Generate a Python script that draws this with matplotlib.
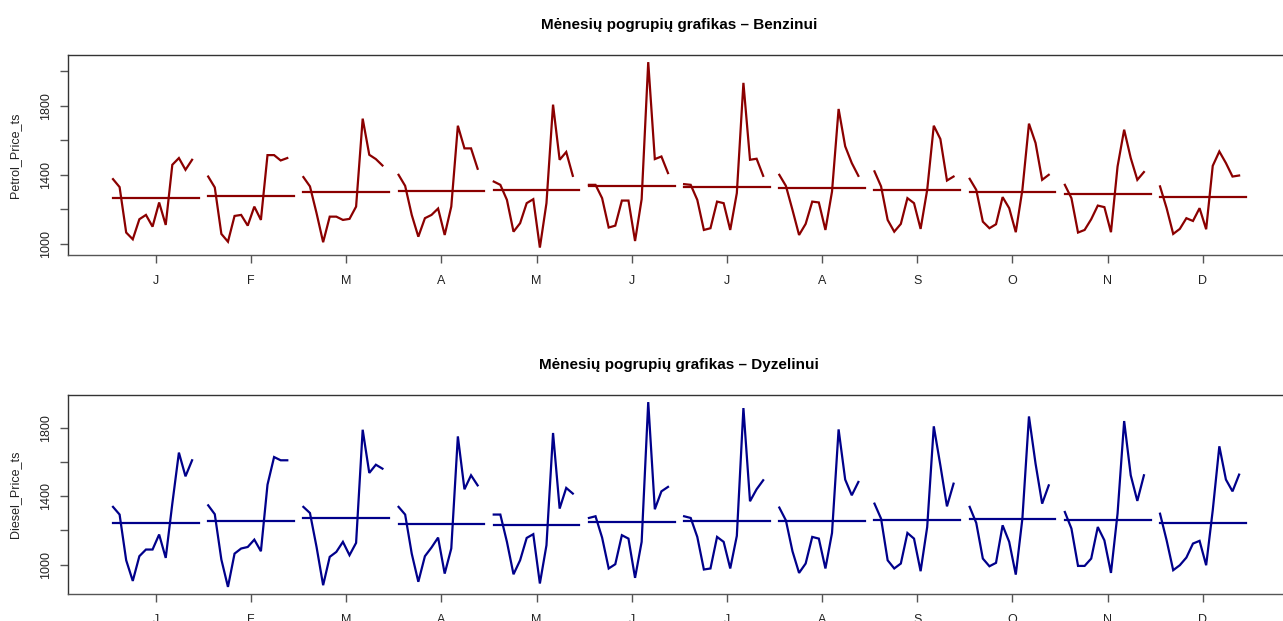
import numpy as np
import matplotlib
matplotlib.use("Agg")
import matplotlib.pyplot as plt

plt.rcParams['font.family'] = ['Liberation Sans', 'DejaVu Sans']

month_labels = ["J", "F", "M", "A", "M", "J", "J", "A", "S", "O", "N", "D"]

# Benzinas: kiekvieno mėnesio reikšmės per metus
petrol_jan = [1375, 1329, 1066, 1027, 1143, 1168, 1100, 1240, 1110, 1458, 1497, 1429, 1487]
petrol_feb = [1390, 1327, 1058, 1013, 1162, 1168, 1106, 1216, 1139, 1514, 1514, 1483, 1497]
petrol_mar = [1387, 1333, 1178, 1010, 1158, 1158, 1139, 1145, 1216, 1725, 1516, 1491, 1454]
petrol_apr = [1400, 1336, 1168, 1042, 1149, 1168, 1205, 1052, 1216, 1684, 1553, 1553, 1435]
petrol_may = [1361, 1342, 1255, 1071, 1120, 1236, 1259, 979, 1236, 1806, 1487, 1532, 1394]
petrol_jun = [1342, 1342, 1265, 1095, 1106, 1251, 1251, 1017, 1259, 2052, 1491, 1506, 1410]
petrol_jul = [1346, 1342, 1255, 1081, 1091, 1245, 1236, 1081, 1294, 1932, 1487, 1493, 1394]
petrol_aug = [1400, 1336, 1197, 1052, 1116, 1245, 1240, 1081, 1303, 1781, 1565, 1468, 1394]
petrol_sep = [1420, 1333, 1139, 1071, 1116, 1265, 1236, 1087, 1313, 1684, 1607, 1367, 1390]
petrol_oct = [1377, 1313, 1129, 1091, 1114, 1271, 1207, 1068, 1313, 1696, 1584, 1371, 1400]
petrol_nov = [1342, 1265, 1066, 1081, 1143, 1222, 1213, 1068, 1448, 1661, 1497, 1371, 1416]
petrol_dec = [1333, 1207, 1058, 1087, 1149, 1133, 1207, 1085, 1452, 1535, 1468, 1390, 1396]

# Dyzelinas
diesel_jan = [1338, 1293, 1025, 904, 1049, 1088, 1088, 1176, 1039, 1357, 1656, 1517, 1611]
diesel_feb = [1347, 1295, 1029, 869, 1064, 1094, 1103, 1146, 1078, 1468, 1630, 1611, 1611]
diesel_mar = [1338, 1302, 1103, 879, 1045, 1074, 1133, 1055, 1127, 1790, 1537, 1585, 1562]
diesel_apr = [1338, 1293, 1064, 899, 1049, 1100, 1158, 947, 1094, 1751, 1441, 1523, 1464]
diesel_may = [1293, 1293, 1133, 943, 1025, 1156, 1178, 889, 1113, 1771, 1328, 1449, 1416]
diesel_jun = [1273, 1283, 1158, 977, 1002, 1172, 1152, 922, 1133, 1952, 1324, 1429, 1455]
diesel_jul = [1283, 1273, 1162, 971, 977, 1162, 1133, 977, 1168, 1917, 1371, 1441, 1494]
diesel_aug = [1334, 1259, 1078, 951, 1006, 1162, 1152, 977, 1185, 1792, 1498, 1406, 1484]
diesel_sep = [1357, 1269, 1025, 977, 1006, 1185, 1152, 961, 1220, 1810, 1581, 1341, 1474]
diesel_oct = [1338, 1244, 1035, 990, 1010, 1230, 1133, 941, 1269, 1868, 1591, 1357, 1464]
diesel_nov = [1308, 1211, 992, 992, 1035, 1220, 1142, 951, 1299, 1841, 1523, 1373, 1523]
diesel_dec = [1298, 1142, 967, 996, 1041, 1123, 1139, 996, 1318, 1693, 1498, 1429, 1527]

petrol = [petrol_jan, petrol_feb, petrol_mar, petrol_apr, petrol_may, petrol_jun,
          petrol_jul, petrol_aug, petrol_sep, petrol_oct, petrol_nov, petrol_dec]
diesel = [diesel_jan, diesel_feb, diesel_mar, diesel_apr, diesel_may, diesel_jun,
          diesel_jul, diesel_aug, diesel_sep, diesel_oct, diesel_nov, diesel_dec]

W, H = 1283, 621
fig = plt.figure(figsize=(W / 100, H / 100), dpi=100)

txt_col = "#222222"
axis_col = "#555555"


def monthplot(ax, groups, color, ylab, title, ylim_ticks):
    allv = np.concatenate([np.array(g, dtype=float) for g in groups])
    for i, g in enumerate(groups, start=1):
        g = np.array(g, dtype=float)
        n = len(g)
        xs = i - 0.45 + np.arange(n) * 0.9 / n
        ax.plot(xs, g, color=color, lw=1.6, solid_joinstyle='miter')
        ax.plot([i - 0.45, i + 0.45], [g.mean(), g.mean()], color=color, lw=1.6)
    # R stiliaus ribos: +4%
    lo, hi = allv.min(), allv.max()
    ext = (hi - lo) * 0.04
    ax.set_ylim(lo - ext, hi + ext)
    xr = 12.45 - 0.55
    ax.set_xlim(0.55 - xr * 0.04, 12.45 + xr * 0.04)

    ax.set_xticks(range(1, 13))
    ax.set_xticklabels(month_labels)
    ax.set_yticks(ylim_ticks)
    ax.set_yticklabels([str(t) if t in (1000, 1400, 1800) else "" for t in ylim_ticks],
                       rotation=90, va='center')
    ax.tick_params(axis='both', length=5.5, width=1, color=axis_col,
                   labelsize=9, labelcolor=txt_col)
    ax.tick_params(axis='x', pad=9)
    ax.tick_params(axis='y', pad=6)
    for s in ax.spines.values():
        s.set_color("#333333")
        s.set_linewidth(1)
    ax.spines['bottom'].set_color(axis_col)

    pos = ax.get_position()
    fig.text(15 / W, pos.y0 + pos.height / 2, ylab, rotation=90, ha='center', va='center',
             fontsize=9, color=txt_col)
    fig.text(679 / W, pos.y1 + 30 / H, title, ha='center', va='center',
             fontsize=11, fontweight='bold', color='black')


ax1 = fig.add_axes([67.7 / W, (H - 255) / H, (1291 - 67.7) / W, (255 - 54.7) / H])
monthplot(ax1, petrol, "#8B0000", "Petrol_Price_ts",
          "Mėnesių pogrupių grafikas – Benzinui", [1000, 1200, 1400, 1600, 1800, 2000])

ax2 = fig.add_axes([67.7 / W, (H - 594.3) / H, (1291 - 67.7) / W, (594.3 - 394.7) / H])
monthplot(ax2, diesel, "#00008B", "Diesel_Price_ts",
          "Mėnesių pogrupių grafikas – Dyzelinui", [1000, 1200, 1400, 1600, 1800])

fig.savefig("out.png", dpi=100)
